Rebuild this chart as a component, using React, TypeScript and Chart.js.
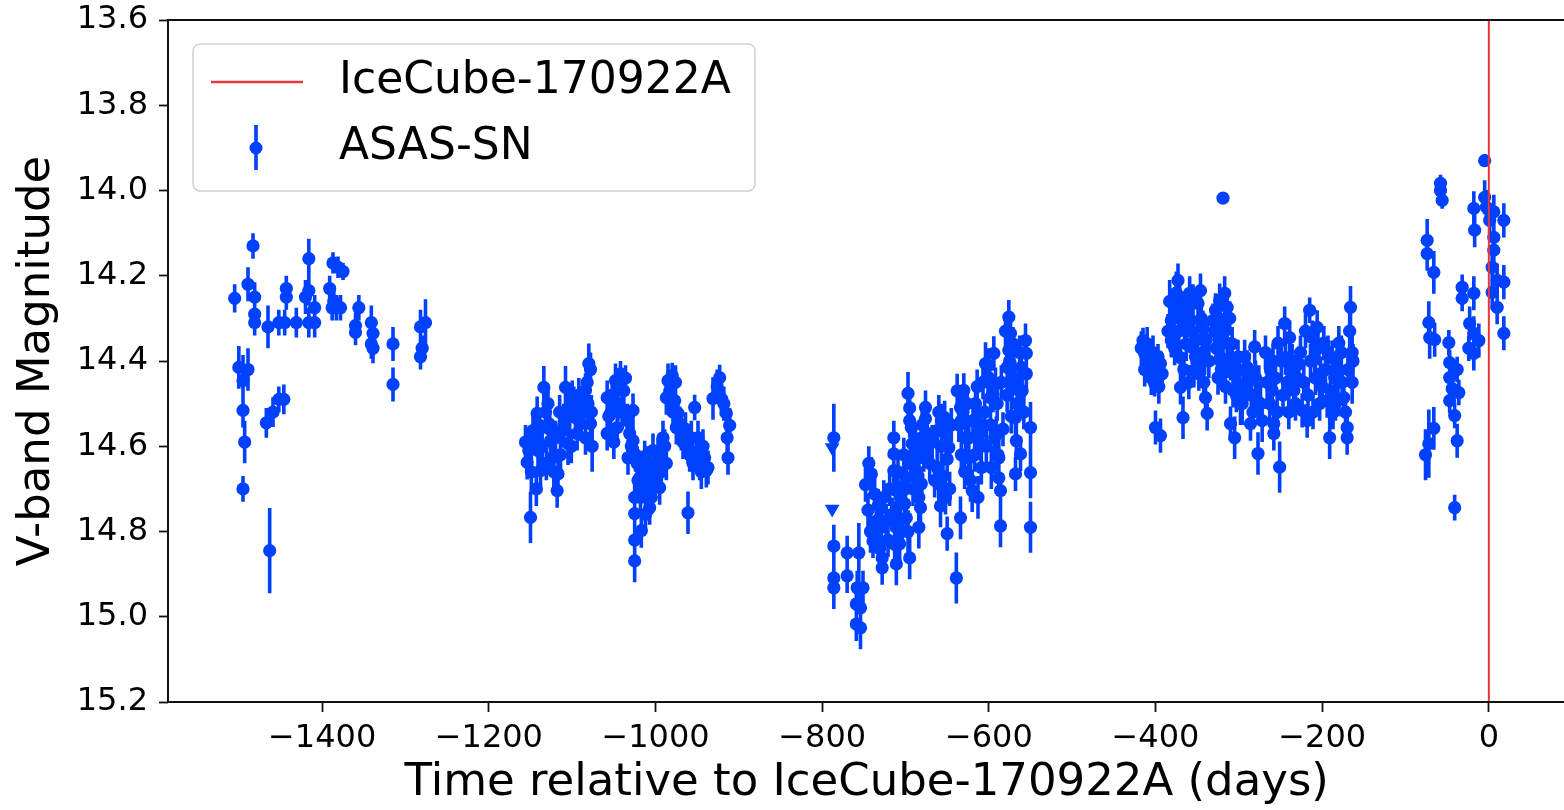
import React, { useEffect, useRef } from 'react';
import { Chart, registerables } from 'chart.js';

Chart.register(...registerables);

// ASAS-SN V-band light curve of TXS 0506+056, days relative to IceCube-170922A
const s1Days = [-1505, -1483, -1489, -1481, -1481, -1481, -1465, -1452, -1445, -1443, -1443, -1500, -1495, -1489, -1495, -1493, -1495, -1463, -1467, -1459, -1452, -1446, -1416, -1420, -1416, -1416, -1409, -1409, -1431, -1387, -1381, -1375, -1391, -1386, -1383, -1388, -1378, -1356, -1360, -1360, -1341, -1339, -1341, -1339, -1315, -1315, -1282, -1276, -1282, -1280];
const s1Mags = [14.253, 14.13, 14.22, 14.25, 14.29, 14.31, 14.32, 14.31, 14.31, 14.23, 14.25, 14.415, 14.446, 14.42, 14.516, 14.59, 14.7, 14.845, 14.545, 14.52, 14.49, 14.49, 14.16, 14.25, 14.235, 14.31, 14.275, 14.31, 14.31, 14.17, 14.18, 14.19, 14.23, 14.26, 14.275, 14.275, 14.275, 14.275, 14.317, 14.333, 14.31, 14.335, 14.36, 14.37, 14.36, 14.455, 14.32, 14.31, 14.39, 14.37];
const s1Errs = [0.033, 0.03, 0.04, 0.035, 0.03, 0.03, 0.05, 0.03, 0.03, 0.03, 0.03, 0.05, 0.06, 0.05, 0.04, 0.05, 0.03, 0.1, 0.035, 0.035, 0.03, 0.035, 0.047, 0.04, 0.035, 0.035, 0.03, 0.035, 0.035, 0.025, 0.025, 0.02, 0.03, 0.03, 0.03, 0.03, 0.03, 0.03, 0.03, 0.03, 0.04, 0.035, 0.035, 0.035, 0.04, 0.04, 0.04, 0.055, 0.03, 0.03];

const s2Days = [-1156, -1154, -1150, -1147, -1142, -1141, -1138, -1134, -1129, -1128, -1126, -1124, -1118, -1117, -1112, -1108, -1106, -1105, -1100, -1096, -1090, -1088, -1084, -1080, -1078, -1078, -1076, -1084, -1058, -1058, -1054, -1048, -1042, -1036, -1046, -1034, -1027, -1033, -1027, -1022, -1019, -1025, -1025, -1025, -1025, -1017, -1013, -1011, -1007, -1003, -999, -995, -991, -987, -1005, -987, -985, -980, -977, -973, -971, -969, -975, -961, -957, -953, -951, -947, -941, -939, -961, -931, -923, -921, -915, -911, -913];
const s2Mags = [14.59, 14.638, 14.767, 14.563, 14.523, 14.61, 14.657, 14.462, 14.5, 14.547, 14.587, 14.627, 14.704, 14.665, 14.563, 14.462, 14.516, 14.594, 14.486, 14.533, 14.547, 14.5, 14.469, 14.406, 14.42, 14.547, 14.6, 14.58, 14.486, 14.57, 14.523, 14.446, 14.43, 14.44, 14.556, 14.54, 14.516, 14.627, 14.587, 14.64, 14.674, 14.72, 14.758, 14.82, 14.869, 14.798, 14.627, 14.697, 14.744, 14.61, 14.657, 14.697, 14.58, 14.64, 14.674, 14.486, 14.446, 14.434, 14.493, 14.523, 14.547, 14.57, 14.556, 14.6, 14.58, 14.509, 14.62, 14.64, 14.627, 14.657, 14.756, 14.488, 14.439, 14.488, 14.523, 14.551, 14.627];
const s2Errs = [0.04, 0.04, 0.06, 0.04, 0.04, 0.04, 0.05, 0.05, 0.04, 0.04, 0.04, 0.04, 0.04, 0.04, 0.04, 0.05, 0.04, 0.05, 0.04, 0.04, 0.04, 0.04, 0.04, 0.047, 0.04, 0.05, 0.06, 0.04, 0.04, 0.04, 0.04, 0.04, 0.03, 0.03, 0.04, 0.04, 0.04, 0.04, 0.04, 0.04, 0.04, 0.04, 0.04, 0.04, 0.05, 0.04, 0.04, 0.04, 0.04, 0.04, 0.04, 0.04, 0.04, 0.04, 0.04, 0.04, 0.04, 0.03, 0.04, 0.04, 0.04, 0.04, 0.04, 0.04, 0.04, 0.03, 0.04, 0.04, 0.04, 0.04, 0.05, 0.05, 0.03, 0.04, 0.04, 0.04, 0.04];

const s2bDays = [-1152, -1149, -1145, -1143, -1140, -1136, -1132, -1131, -1127, -1122, -1120, -1115, -1114, -1110, -1103, -1101, -1098, -1094, -1092, -1086, -1082, -1081, -1077,
  -1056, -1052, -1050, -1045, -1040, -1038, -1031, -1029, -1024, -1021, -1018, -1015, -1012, -1009, -1005, -1001, -997, -993, -989,
  -983, -979, -976, -972, -967, -964, -959, -955, -949, -945, -943, -937, -926, -918, -914];
const s2bMags = [14.61, 14.66, 14.58, 14.7, 14.55, 14.6, 14.52, 14.64, 14.56, 14.66, 14.58, 14.52, 14.62, 14.55, 14.53, 14.6, 14.5, 14.57, 14.48, 14.52, 14.45, 14.5, 14.52,
  14.53, 14.48, 14.59, 14.5, 14.52, 14.47, 14.57, 14.6, 14.62, 14.68, 14.72, 14.66, 14.76, 14.64, 14.72, 14.68, 14.62, 14.66, 14.6,
  14.47, 14.52, 14.45, 14.55, 14.59, 14.56, 14.62, 14.64, 14.58, 14.66, 14.6, 14.65, 14.46, 14.5, 14.58];
const s2bErrs = [0.04, 0.05, 0.04, 0.04, 0.04, 0.04, 0.05, 0.04, 0.04, 0.04, 0.04, 0.04, 0.04, 0.05, 0.04, 0.04, 0.04, 0.04, 0.04, 0.04, 0.05, 0.04, 0.04,
  0.04, 0.04, 0.04, 0.04, 0.04, 0.04, 0.04, 0.04, 0.04, 0.04, 0.04, 0.05, 0.04, 0.04, 0.04, 0.04, 0.04, 0.04, 0.04,
  0.04, 0.04, 0.04, 0.04, 0.04, 0.04, 0.04, 0.04, 0.04, 0.04, 0.04, 0.04, 0.04, 0.04, 0.04];

const s3Days = [-786, -786, -786, -786, -770, -770, -756, -758, -759, -759, -754, -754, -751, -744, -741, -737, -735, -739, -729, -728, -728, -723, -714, -714, -714, -711, -711, -711, -711, -707, -707, -703, -701, -699, -699, -695, -697, -695, -695, -693, -692, -689, -687, -686, -684, -682, -681, -676, -676, -681, -684, -684, -662, -657, -653, -662, -660, -652, -650, -648, -639, -634, -634, -633, -630, -628, -624, -620, -616, -612, -609, -610, -604, -601, -598, -594, -592, -591, -588, -588, -586, -586, -576, -574, -576, -578, -572, -568, -567, -562, -568, -556, -555, -555, -550, -550, -550, -564, -561];
const s3Mags = [14.58, 14.834, 14.909, 14.932, 14.85, 14.904, 14.85, 14.932, 14.97, 15.017, 14.979, 15.026, 14.932, 14.64, 14.665, 14.712, 14.775, 14.822, 14.79, 14.862, 14.885, 14.775, 14.58, 14.618, 14.657, 14.704, 14.744, 14.79, 14.876, 14.775, 14.829, 14.697, 14.735, 14.674, 14.768, 14.862, 14.476, 14.51, 14.54, 14.556, 14.594, 14.627, 14.657, 14.704, 14.72, 14.744, 14.688, 14.509, 14.535, 14.58, 14.627, 14.79, 14.563, 14.54, 14.533, 14.65, 14.688, 14.72, 14.805, 14.603, 14.909, 14.768, 14.509, 14.54, 14.469, 14.58, 14.627, 14.704, 14.5, 14.547, 14.65, 14.594, 14.406, 14.438, 14.486, 14.382, 14.455, 14.57, 14.627, 14.674, 14.704, 14.787, 14.297, 14.335, 14.375, 14.415, 14.462, 14.533, 14.587, 14.618, 14.665, 14.352, 14.382, 14.43, 14.556, 14.662, 14.79, 14.469, 14.415];
const s3Errs = [0.08, 0.05, 0.04, 0.05, 0.04, 0.04, 0.07, 0.04, 0.04, 0.04, 0.04, 0.05, 0.04, 0.04, 0.04, 0.04, 0.05, 0.04, 0.04, 0.04, 0.04, 0.04, 0.04, 0.04, 0.04, 0.04, 0.04, 0.04, 0.05, 0.04, 0.04, 0.04, 0.04, 0.04, 0.04, 0.05, 0.05, 0.04, 0.04, 0.04, 0.04, 0.04, 0.04, 0.04, 0.04, 0.04, 0.04, 0.04, 0.04, 0.04, 0.04, 0.05, 0.05, 0.04, 0.04, 0.04, 0.04, 0.04, 0.04, 0.04, 0.06, 0.05, 0.04, 0.04, 0.04, 0.04, 0.04, 0.05, 0.04, 0.04, 0.04, 0.04, 0.05, 0.04, 0.04, 0.04, 0.04, 0.04, 0.04, 0.04, 0.04, 0.05, 0.04, 0.04, 0.04, 0.04, 0.04, 0.04, 0.04, 0.04, 0.04, 0.04, 0.04, 0.04, 0.06, 0.06, 0.06, 0.04, 0.04];

const s3bDays = [-660, -657, -655, -652, -650, -647, -645, -658,
  -638, -636, -633, -631, -629, -626, -624, -622, -619, -617, -614, -613, -611,
  -607, -605, -603, -600, -598, -597, -595, -593, -590, -589, -585, -583,
  -580, -578, -575, -573, -571, -569, -566, -563, -560, -558,
  -748, -745, -742, -733, -731, -726, -721, -719, -716, -713, -709, -706, -704, -702, -700, -697, -694, -691, -688, -685, -680, -678, -674, -671, -668, -665];
const s3bMags = [14.52, 14.6, 14.67, 14.57, 14.63, 14.7, 14.55, 14.74,
  14.47, 14.55, 14.62, 14.52, 14.66, 14.5, 14.58, 14.68, 14.54, 14.62, 14.46, 14.72, 14.57,
  14.45, 14.52, 14.6, 14.41, 14.55, 14.65, 14.48, 14.58, 14.5, 14.62, 14.45, 14.56,
  14.33, 14.48, 14.4, 14.53, 14.36, 14.44, 14.5, 14.38, 14.47, 14.52,
  14.69, 14.75, 14.8, 14.74, 14.84, 14.72, 14.82, 14.7, 14.76, 14.83, 14.66, 14.72, 14.8, 14.62, 14.7, 14.8, 14.64, 14.7, 14.6, 14.67, 14.55, 14.62, 14.57, 14.64, 14.59, 14.68];
const s3bErrs = [0.04, 0.04, 0.04, 0.04, 0.04, 0.04, 0.04, 0.05,
  0.04, 0.04, 0.04, 0.04, 0.04, 0.04, 0.04, 0.05, 0.04, 0.04, 0.04, 0.05, 0.04,
  0.04, 0.04, 0.04, 0.04, 0.04, 0.05, 0.04, 0.04, 0.04, 0.04, 0.04, 0.04,
  0.04, 0.04, 0.04, 0.04, 0.04, 0.04, 0.04, 0.04, 0.04, 0.04,
  0.04, 0.04, 0.05, 0.04, 0.05, 0.04, 0.04, 0.04, 0.04, 0.05, 0.04, 0.04, 0.04, 0.04, 0.04, 0.05, 0.04, 0.04, 0.04, 0.04, 0.04, 0.04, 0.04, 0.04, 0.04, 0.04];

// upper limits drawn as down-pointing triangles
const limitDays = [-788, -788];
const limitMags = [14.603, 14.747];

const s4Days = [-319, -415, -413, -407, -404, -401, -397, -394, -400, -394, -381, -381, -373, -371, -367, -365, -370, -370, -367, -359, -358, -356, -354, -349, -346, -343, -341, -340, -338, -331, -328, -323, -317, -314, -317, -322, -325, -314, -310, -307, -310, -305, -299, -298, -294, -290, -286, -281, -280, -277, -274, -262, -260, -258, -258, -251, -253, -245, -244, -239, -238, -234, -228, -224, -218, -215, -212, -209, -206, -202, -198, -194, -191, -188, -185, -184, -180, -179, -174, -170, -170, -166, -164, -164];
const s4Mags = [14.018, 14.352, 14.382, 14.406, 14.43, 14.453, 14.39, 14.406, 14.556, 14.575, 14.305, 14.352, 14.211, 14.25, 14.28, 14.328, 14.392, 14.462, 14.533, 14.241, 14.305, 14.368, 14.422, 14.265, 14.235, 14.322, 14.392, 14.486, 14.523, 14.305, 14.281, 14.258, 14.241, 14.274, 14.322, 14.392, 14.439, 14.358, 14.406, 14.469, 14.547, 14.58, 14.422, 14.5, 14.453, 14.415, 14.547, 14.367, 14.439, 14.617, 14.5, 14.422, 14.469, 14.547, 14.57, 14.649, 14.358, 14.312, 14.392, 14.345, 14.422, 14.469, 14.406, 14.516, 14.54, 14.281, 14.345, 14.392, 14.321, 14.43, 14.358, 14.493, 14.58, 14.392, 14.439, 14.5, 14.358, 14.422, 14.486, 14.556, 14.58, 14.274, 14.38, 14.45];
const s4Errs = [0.01, 0.03, 0.03, 0.03, 0.03, 0.03, 0.03, 0.03, 0.04, 0.04, 0.04, 0.04, 0.04, 0.04, 0.04, 0.04, 0.04, 0.04, 0.05, 0.04, 0.04, 0.04, 0.04, 0.04, 0.04, 0.04, 0.04, 0.04, 0.04, 0.04, 0.04, 0.04, 0.04, 0.04, 0.04, 0.04, 0.04, 0.04, 0.04, 0.04, 0.04, 0.05, 0.04, 0.05, 0.04, 0.04, 0.04, 0.04, 0.04, 0.05, 0.04, 0.04, 0.04, 0.05, 0.04, 0.06, 0.04, 0.04, 0.04, 0.04, 0.04, 0.04, 0.04, 0.04, 0.04, 0.03, 0.04, 0.04, 0.04, 0.04, 0.04, 0.04, 0.05, 0.04, 0.04, 0.04, 0.04, 0.04, 0.04, 0.05, 0.04, 0.05, 0.05, 0.05];

const s4bDays = [-417, -413, -410, -405, -403, -399, -396, -392,
  -385, -383, -379, -377, -375, -372, -369, -366, -363, -362, -360, -357, -355, -352, -350, -348, -345, -344, -342, -339, -336,
  -329, -327, -324, -321, -319, -316, -313, -311, -308, -305, -303, -301, -296, -293, -291, -288, -285, -283, -279, -276, -272,
  -268, -266, -263, -259, -256, -254, -249, -247, -242, -240, -236, -232, -230,
  -226, -222, -220, -217, -214, -211, -208, -205, -203, -200,
  -196, -193, -190, -187, -183, -181, -177, -176, -172, -169, -167, -163];
const s4bMags = [14.37, 14.42, 14.36, 14.44, 14.38, 14.41, 14.46, 14.43,
  14.33, 14.26, 14.3, 14.37, 14.24, 14.33, 14.29, 14.42, 14.36, 14.27, 14.45, 14.33, 14.26, 14.39, 14.35, 14.43, 14.3, 14.38, 14.45, 14.35, 14.4,
  14.33, 14.37, 14.3, 14.42, 14.35, 14.46, 14.4, 14.3, 14.36, 14.43, 14.48, 14.39, 14.5, 14.39, 14.46, 14.42, 14.48, 14.52, 14.49, 14.45, 14.54,
  14.38, 14.45, 14.5, 14.4, 14.44, 14.52, 14.4, 14.48, 14.45, 14.52, 14.4, 14.5, 14.44,
  14.38, 14.45, 14.33, 14.48, 14.4, 14.52, 14.44, 14.37, 14.5, 14.46,
  14.42, 14.38, 14.47, 14.52, 14.42, 14.49, 14.38, 14.45, 14.52, 14.42, 14.33, 14.4];
const s4bErrs = [0.04, 0.04, 0.04, 0.04, 0.04, 0.04, 0.04, 0.04,
  0.04, 0.05, 0.04, 0.04, 0.05, 0.04, 0.04, 0.04, 0.04, 0.04, 0.04, 0.04, 0.04, 0.04, 0.04, 0.04, 0.04, 0.04, 0.04, 0.04, 0.04,
  0.04, 0.04, 0.04, 0.04, 0.04, 0.04, 0.04, 0.04, 0.04, 0.04, 0.04, 0.04, 0.05, 0.04, 0.04, 0.04, 0.04, 0.04, 0.04, 0.04, 0.05,
  0.04, 0.04, 0.04, 0.04, 0.04, 0.04, 0.04, 0.04, 0.04, 0.04, 0.04, 0.04, 0.04,
  0.04, 0.04, 0.04, 0.04, 0.04, 0.04, 0.04, 0.04, 0.04, 0.04,
  0.04, 0.04, 0.04, 0.04, 0.04, 0.04, 0.04, 0.04, 0.04, 0.04, 0.05, 0.04];

const s5Days = [-5, -58, -58, -56, -74, -74, -66, -72, -71, -65, -72, -66, -76, -48, -47, -47, -44, -38, -36, -47, -41, -38, -41, -32, -32, -18, -23, -18, -12, -24, -18, -18, -17, -5, -3, 6, 1, 18, 6, 6, 4, 10, 18, 4, 10, 18];
const s5Mags = [13.93, 13.983, 14.0, 14.023, 14.117, 14.148, 14.192, 14.31, 14.345, 14.35, 14.594, 14.558, 14.62, 14.357, 14.404, 14.439, 14.465, 14.42, 14.474, 14.493, 14.528, 14.587, 14.744, 14.227, 14.253, 14.241, 14.312, 14.335, 14.352, 14.37, 14.382, 14.042, 14.093, 14.016, 14.039, 14.05, 14.07, 14.07, 14.11, 14.14, 14.18, 14.211, 14.215, 14.239, 14.274, 14.335];
const s5Errs = [0.015, 0.02, 0.02, 0.02, 0.05, 0.04, 0.05, 0.05, 0.05, 0.04, 0.08, 0.05, 0.06, 0.03, 0.03, 0.03, 0.03, 0.03, 0.03, 0.03, 0.03, 0.04, 0.03, 0.03, 0.03, 0.04, 0.04, 0.04, 0.04, 0.03, 0.04, 0.04, 0.04, 0.04, 0.04, 0.04, 0.04, 0.04, 0.04, 0.04, 0.04, 0.04, 0.04, 0.04, 0.04, 0.04];

const neutrinoDay = 0;

const xTickValues = [-1400, -1200, -1000, -800, -600, -400, -200, 0];
const yTickValues = [13.6, 13.8, 14.0, 14.2, 14.4, 14.6, 14.8, 15.0, 15.2];

const X_MIN = -1585;
const X_MAX = 92;
const Y_MIN = 13.6;
const Y_MAX = 15.2;

const BLUE = '#0040ff';
const RED = '#e8363a';
const FONT = '"DejaVu Sans", "Liberation Sans", sans-serif';

type ErrPoint = { x: number; y: number; err: number };

function buildPoints(days: number[], mags: number[], errs: number[]): ErrPoint[] {
  const n = Math.min(days.length, mags.length);
  const out: ErrPoint[] = [];
  for (let i = 0; i < n; i++) out.push({ x: days[i], y: mags[i], err: errs[i] ?? 0.04 });
  return out;
}

const asasPoints: ErrPoint[] = [
  ...buildPoints(s1Days, s1Mags, s1Errs),
  ...buildPoints(s2Days, s2Mags, s2Errs),
  ...buildPoints(s2bDays, s2bMags, s2bErrs),
  ...buildPoints(s3Days, s3Mags, s3Errs),
  ...buildPoints(s3bDays, s3bMags, s3bErrs),
  ...buildPoints(s4Days, s4Mags, s4Errs),
  ...buildPoints(s4bDays, s4bMags, s4bErrs),
  ...buildPoints(s5Days, s5Mags, s5Errs),
];

const limitPoints = limitDays.map((d, i) => ({ x: d, y: limitMags[i] }));

// vertical error bars, drawn beneath the markers
const errorBarPlugin = {
  id: 'errorBars',
  beforeDatasetsDraw(chart: any) {
    const { ctx, chartArea, scales } = chart;
    const xs = scales.x;
    const ys = scales.y;
    ctx.save();
    ctx.beginPath();
    ctx.rect(chartArea.left, chartArea.top, chartArea.right - chartArea.left, chartArea.bottom - chartArea.top);
    ctx.clip();
    chart.data.datasets.forEach((ds: any) => {
      if (!ds.errorBars) return;
      ctx.strokeStyle = ds.backgroundColor;
      ctx.lineWidth = 3.6;
      ctx.lineCap = 'butt';
      ctx.beginPath();
      ds.data.forEach((p: ErrPoint) => {
        const px = xs.getPixelForValue(p.x);
        ctx.moveTo(px, ys.getPixelForValue(p.y - p.err));
        ctx.lineTo(px, ys.getPixelForValue(p.y + p.err));
      });
      ctx.stroke();
    });
    ctx.restore();
  },
};

// axes frame on all four sides
const framePlugin = {
  id: 'frame',
  afterDatasetsDraw(chart: any) {
    const { ctx, chartArea } = chart;
    ctx.save();
    ctx.strokeStyle = '#111';
    ctx.lineWidth = 2;
    ctx.strokeRect(chartArea.left, chartArea.top, chartArea.right - chartArea.left, chartArea.bottom - chartArea.top);
    ctx.restore();
  },
};

// boxed legend in the upper-left corner of the plot
const legendPlugin = {
  id: 'boxLegend',
  afterDraw(chart: any) {
    const { ctx } = chart;
    const line = chart.data.datasets.find((d: any) => d.legendKind === 'line');
    const bars = chart.data.datasets.find((d: any) => d.legendKind === 'errorbar');
    const left = 193;
    const top = 44;
    const w = 562;
    const h = 147;
    const r = 7;
    ctx.save();
    ctx.beginPath();
    ctx.moveTo(left + r, top);
    ctx.lineTo(left + w - r, top);
    ctx.arcTo(left + w, top, left + w, top + r, r);
    ctx.lineTo(left + w, top + h - r);
    ctx.arcTo(left + w, top + h, left + w - r, top + h, r);
    ctx.lineTo(left + r, top + h);
    ctx.arcTo(left, top + h, left, top + h - r, r);
    ctx.lineTo(left, top + r);
    ctx.arcTo(left, top, left + r, top, r);
    ctx.closePath();
    ctx.fillStyle = 'rgba(255,255,255,0.85)';
    ctx.fill();
    ctx.strokeStyle = '#d0d0d0';
    ctx.lineWidth = 1.5;
    ctx.stroke();

    const row1 = 82;
    const row2 = 148;
    const textX = 339;

    ctx.strokeStyle = line.borderColor;
    ctx.lineWidth = 2.5;
    ctx.beginPath();
    ctx.moveTo(211, row1);
    ctx.lineTo(303, row1);
    ctx.stroke();

    ctx.strokeStyle = bars.backgroundColor;
    ctx.lineWidth = 3.6;
    ctx.beginPath();
    ctx.moveTo(256, row2 - 23);
    ctx.lineTo(256, row2 + 22);
    ctx.stroke();
    ctx.fillStyle = bars.backgroundColor;
    ctx.beginPath();
    ctx.arc(256, row2, 6.5, 0, Math.PI * 2);
    ctx.fill();

    ctx.fillStyle = '#000';
    ctx.font = `44px ${FONT}`;
    ctx.textAlign = 'left';
    ctx.textBaseline = 'middle';
    ctx.fillText(line.label, textX, row1);
    ctx.fillText(bars.label, textX, row2);
    ctx.restore();
  },
};

const fmtX = (v: number) => (v < 0 ? '\u2212' + Math.abs(v) : String(v));

export default function App() {
  const ref = useRef<HTMLCanvasElement>(null);

  useEffect(() => {
    if (!ref.current) return;
    Chart.defaults.font.family = FONT;
    Chart.defaults.color = '#000';

    const chart = new Chart(ref.current, {
      type: 'scatter',
      data: {
        datasets: [
          {
            type: 'line',
            label: 'IceCube-170922A',
            legendKind: 'line',
            data: [
              { x: neutrinoDay, y: Y_MIN },
              { x: neutrinoDay, y: Y_MAX },
            ],
            borderColor: RED,
            borderWidth: 2,
            pointRadius: 0,
            fill: false,
            order: 0,
          } as any,
          {
            type: 'scatter',
            label: 'ASAS-SN',
            legendKind: 'errorbar',
            errorBars: true,
            data: asasPoints,
            backgroundColor: BLUE,
            borderWidth: 0,
            pointRadius: 6.6,
            pointHoverRadius: 6.6,
            order: 1,
          } as any,
          {
            type: 'scatter',
            label: 'limits',
            data: limitPoints,
            backgroundColor: BLUE,
            borderWidth: 0,
            pointStyle: 'triangle',
            rotation: 180,
            pointRadius: 8.5,
            pointHoverRadius: 8.5,
            order: 1,
          } as any,
        ],
      },
      options: {
        responsive: false,
        maintainAspectRatio: false,
        devicePixelRatio: 1,
        animation: false,
        events: [],
        layout: { padding: { top: 20, right: 5, bottom: 0, left: 0 } },
        plugins: {
          legend: { display: false },
          tooltip: { enabled: false },
        },
        scales: {
          x: {
            type: 'linear',
            position: 'bottom',
            min: X_MIN,
            max: X_MAX,
            afterBuildTicks: (scale: any) => {
              scale.ticks = xTickValues.map((v) => ({ value: v }));
            },
            afterFit: (scale: any) => {
              scale.height = 108;
              scale.paddingLeft = 0;
              scale.paddingRight = 0;
            },
            ticks: {
              callback: (v: any) => fmtX(Number(v)),
              font: { size: 32, family: FONT },
              color: '#000',
              padding: 7,
              maxRotation: 0,
              autoSkip: false,
            },
            grid: {
              display: true,
              drawOnChartArea: false,
              drawTicks: true,
              tickLength: 10,
              tickColor: '#111',
              tickWidth: 1.8,
            },
            border: { display: false },
            title: {
              display: true,
              text: 'Time relative to IceCube-170922A (days)',
              font: { size: 45, family: FONT, lineHeight: 1.2 },
              color: '#000',
              padding: { top: 0, bottom: 0 },
            },
          },
          y: {
            type: 'linear',
            position: 'left',
            reverse: true,
            min: Y_MIN,
            max: Y_MAX,
            afterBuildTicks: (scale: any) => {
              scale.ticks = yTickValues.map((v) => ({ value: v }));
            },
            afterFit: (scale: any) => {
              scale.width = 168;
              scale.paddingTop = 0;
              scale.paddingBottom = 0;
            },
            ticks: {
              callback: (v: any) => Number(v).toFixed(1),
              font: { size: 32, family: FONT },
              color: '#000',
              padding: 11,
              autoSkip: false,
            },
            grid: {
              display: true,
              drawOnChartArea: false,
              drawTicks: true,
              tickLength: 9,
              tickColor: '#111',
              tickWidth: 1.8,
            },
            border: { display: false },
            title: {
              display: true,
              text: 'V-band Magnitude',
              font: { size: 45, family: FONT, lineHeight: 1.2 },
              color: '#000',
              padding: { top: 10, bottom: 0 },
            },
          },
        },
      },
      plugins: [errorBarPlugin, framePlugin, legendPlugin],
    } as any);

    return () => chart.destroy();
  }, []);

  return (
    <div
      style={{
        position: 'fixed',
        left: 0,
        top: 0,
        width: 1564,
        height: 810,
        overflow: 'hidden',
        background: '#fff',
      }}
    >
      <canvas ref={ref} width={1574} height={810} style={{ display: 'block', width: 1574, height: 810 }} />
    </div>
  );
}
